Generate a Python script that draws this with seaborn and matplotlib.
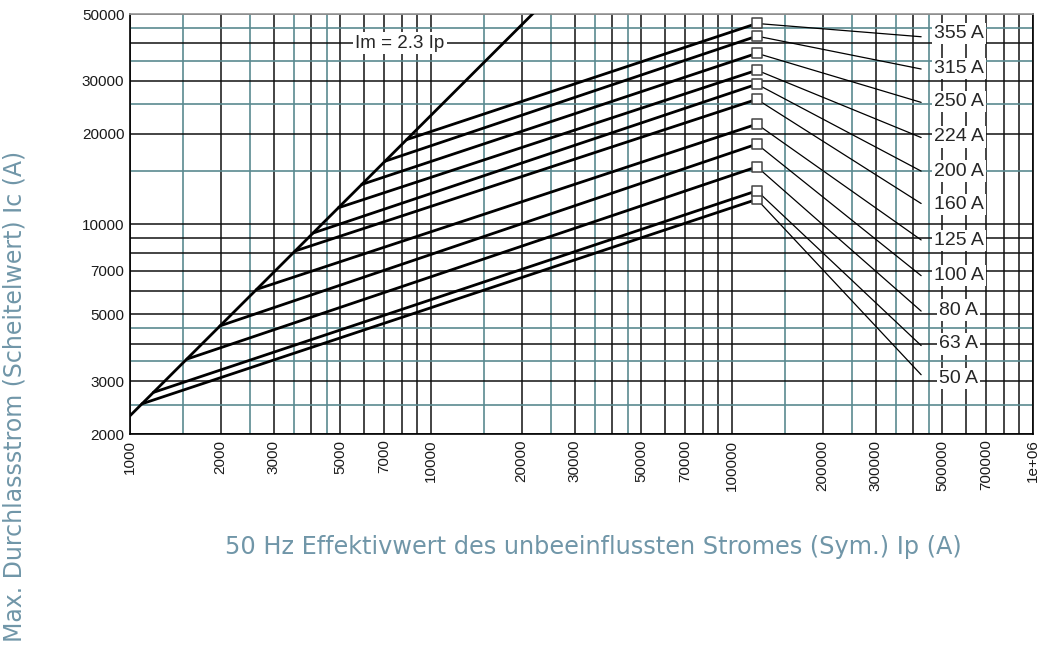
import numpy as np
import pandas as pd
import matplotlib
matplotlib.use("Agg")
import matplotlib.pyplot as plt
from matplotlib.ticker import LogLocator, FuncFormatter, NullFormatter
import seaborn as sns

# Sicherungen (Bemessungsstrom) und Kennlinien-Stützpunkte
fuses = ["50 A", "63 A", "80 A", "100 A", "125 A", "160 A", "200 A", "224 A", "250 A", "315 A", "355 A"]
start_ip = [1095, 1195, 1545, 1990, 2635, 3535, 4055, 4920, 5885, 7035, 8300]
start_ic = [2520, 2750, 3550, 4580, 6060, 8130, 9330, 11320, 13540, 16180, 19090]
end_ip = [121000] * 11
end_ic = [12080, 12900, 15500, 18450, 21500, 26000, 29200, 32500, 37000, 42200, 46500]

# Hinweislinien zu den Beschriftungen
leader_ip = [425000] * 11
leader_ic = [3150, 3940, 5130, 6730, 8850, 11700, 15000, 19400, 25400, 32800, 42000]
label_ip = [567000] * 11
label_ic = [3060, 3990, 5170, 6750, 8800, 11600, 15000, 19500, 25500, 33000, 43000]

# Begrenzungslinie Im = 2.3 Ip
im_ip = [1000, 22000]
im_ic = [2300, 50600]

TEAL = "#5a8a90"
LABEL_COLOR = "#7096a8"

sns.set_theme(style="white")
plt.rcParams["font.family"] = ["Liberation Sans", "DejaVu Sans"]

fig = plt.figure(figsize=(10.44, 6.5), dpi=100)
ax = fig.add_axes([130 / 1044, 1 - 434 / 650, 903 / 1044, 420 / 650])

# Kennlinien
curves = pd.DataFrame({
    "fuse": fuses * 2,
    "Ip": start_ip + end_ip,
    "Ic": start_ic + end_ic,
})
sns.lineplot(data=curves, x="Ip", y="Ic", units="fuse", estimator=None,
             color="black", lw=2.0, ax=ax, zorder=3)

leaders = pd.DataFrame({
    "fuse": fuses * 2,
    "Ip": end_ip + leader_ip,
    "Ic": end_ic + leader_ic,
})
sns.lineplot(data=leaders, x="Ip", y="Ic", units="fuse", estimator=None,
             color="black", lw=0.9, ax=ax, zorder=3)

sns.lineplot(x=im_ip, y=im_ic, color="black", lw=2.0, ax=ax, zorder=3)

sns.scatterplot(x=end_ip, y=end_ic, marker="s", s=45, facecolor="white",
                edgecolor="#444444", linewidth=1.1, ax=ax, zorder=4)

for name, x, y in zip(fuses, label_ip, label_ic):
    ax.text(x, y, name, ha="center", va="center", fontsize=14, zorder=5,
            bbox=dict(facecolor="white", edgecolor="none", pad=1.5))

ax.text(7890, 40000, "Im = 2.3 Ip", ha="center", va="center", fontsize=13.5, zorder=5,
        bbox=dict(facecolor="white", edgecolor="none", pad=2))

ax.set_xscale("log")
ax.set_yscale("log")
ax.set_xlim(1000, 1e6)
ax.set_ylim(2000, 50000)

def fmt(v, pos):
    lead = round(v / 10 ** np.floor(np.log10(v) + 1e-9))
    return "%g" % v if lead in (1, 2, 3, 5, 7) else ""

for axis in (ax.xaxis, ax.yaxis):
    axis.set_major_locator(LogLocator(base=10, subs=range(1, 10), numticks=100))
    axis.set_minor_locator(LogLocator(base=10, subs=[1.5, 2.5, 3.5, 4.5], numticks=100))
    axis.set_major_formatter(FuncFormatter(fmt))
    axis.set_minor_formatter(NullFormatter())

ax.set_axisbelow(True)
ax.grid(which="major", color="#111111", lw=1.1)
ax.grid(which="minor", color=TEAL, lw=1.2)
ax.tick_params(which="both", length=0, labelsize=11, colors="#1a1a1a", pad=4)
ax.tick_params(axis="x", labelrotation=90)

for side in ("left", "bottom", "right"):
    ax.spines[side].set_color("black")
    ax.spines[side].set_linewidth(1.2)
ax.spines["top"].set_color("#999999")

ax.set_xlabel("50 Hz Effektivwert des unbeeinflussten Stromes (Sym.) Ip (A)",
              fontsize=17.3, color=LABEL_COLOR, family=["DejaVu Sans"])
ax.set_ylabel("Max. Durchlassstrom (Scheitelwert) Ic (A)",
              fontsize=17, color=LABEL_COLOR, family=["DejaVu Sans"])
ax.xaxis.set_label_coords((593 - 130) / 903, (434 - 547) / 420)
ax.xaxis.label.set_va("center")
ax.yaxis.set_label_coords((15 - 130) / 903, (434 - 396) / 420)
ax.yaxis.label.set_va("center")

fig.savefig("out.png", dpi=100)
